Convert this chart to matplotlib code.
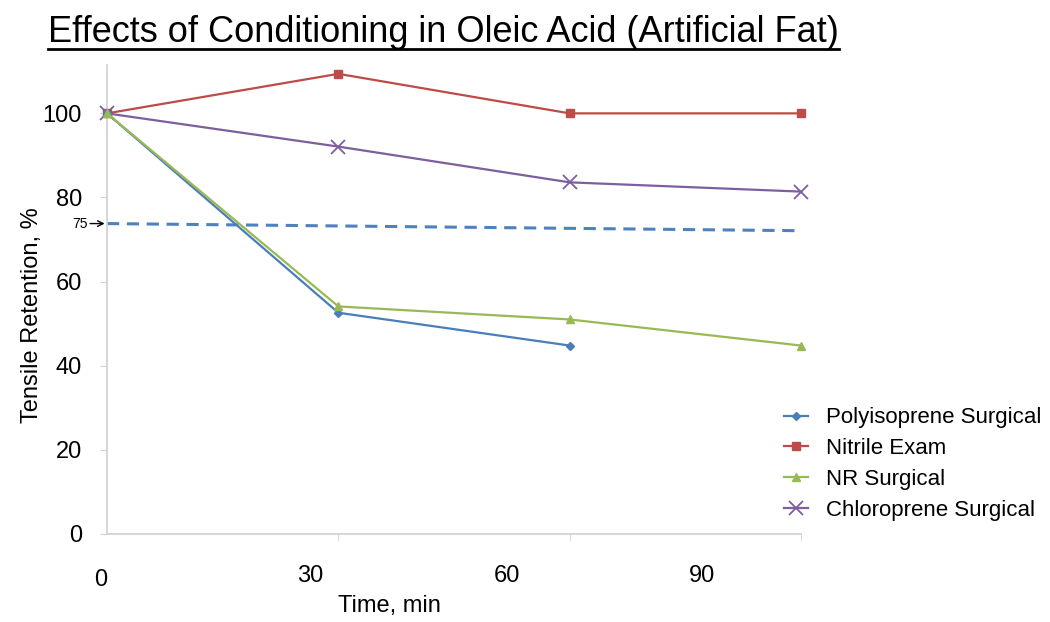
import matplotlib
matplotlib.use("Agg")
import matplotlib.pyplot as plt
import matplotlib.transforms as mtransforms
from matplotlib.lines import Line2D

plt.rcParams['font.family'] = ['Liberation Sans', 'DejaVu Sans']

# data (categorical points along the time axis)
times = ['0', '30', '60', '90']
poly = [100, 52.6, 44.8]
nitrile = [100, 109.4, 100, 100]
nr = [100, 54.1, 51.0, 44.8]
chloro = [100, 92.1, 83.6, 81.4]
threshold = [73.8, 72.1]

fig = plt.figure(figsize=(10.5, 6.22), dpi=100)
ax = fig.add_axes([0.1019, 0.1415, 0.661, 0.754])

ax.plot(range(len(poly)), poly, color='#4a7ebb', marker='D', ms=4.5, lw=1.6,
        label='Polyisoprene Surgical', clip_on=False, zorder=4)
ax.plot(range(len(nitrile)), nitrile, color='#be4b48', marker='s', ms=6, lw=1.6,
        label='Nitrile Exam', clip_on=False, zorder=3)
ax.plot(range(len(nr)), nr, color='#98b954', marker='^', ms=6, lw=1.6,
        label='NR Surgical', clip_on=False, zorder=5)
ax.plot(range(len(chloro)), chloro, color='#7d5fa0', marker='x', ms=10, mew=1.3, lw=1.6,
        label='Chloroprene Surgical', clip_on=False, zorder=3)

ax.plot([0, 3], threshold, color='#4f81bd', ls=(0, (4, 2.5)), lw=2.2, zorder=2)
ax.annotate('75', xy=(-0.01, threshold[0]), xytext=(-0.152, threshold[0]),
            xycoords='data', textcoords='data', va='center', ha='left', fontsize=10,
            arrowprops=dict(arrowstyle='->', color='black', lw=1, shrinkA=0, shrinkB=0),
            annotation_clip=False)

for s in ['top', 'right']:
    ax.spines[s].set_visible(False)
for s in ['left', 'bottom']:
    ax.spines[s].set_color('#d0d0d0')
    ax.spines[s].set_linewidth(1.2)

ax.set_yticks([0, 20, 40, 60, 80, 100])
ax.tick_params(axis='y', length=5, color='#d0d0d0', pad=13, labelsize=17)

# tick marks at the data points, labels offset as in the original
ax.set_xticks([0, 1, 2, 3], minor=True)
ax.tick_params(axis='x', which='minor', length=5, color='#d0d0d0')
ax.set_xticks([0, 0.88, 1.73, 2.57])
ax.set_xticklabels(times)
ax.tick_params(axis='x', which='major', length=0, pad=22, labelsize=17)
lab0 = ax.get_xticklabels()[0]
lab0.set_transform(lab0.get_transform() +
                   mtransforms.ScaledTranslation(-6 / 100, -4 / 100, fig.dpi_scale_trans))

ax.set_xlim(0, 3)
ax.set_ylim(0, 111.5)

ax.set_xlabel('Time, min', fontsize=17)
ax.set_ylabel('Tensile Retention, %', fontsize=17)
ax.xaxis.set_label_coords(0.407, -0.13)
ax.yaxis.set_label_coords(-0.092, 0.467)

leg = ax.legend(loc='upper left', bbox_to_anchor=(0.975, 0.27), frameon=False,
                fontsize=16, handlelength=1.1, handletextpad=0.8, labelspacing=0.44,
                borderaxespad=0, borderpad=0)

title = fig.text(0.422, 0.948, 'Effects of Conditioning in Oleic Acid (Artificial Fat)',
                 ha='center', va='center', fontsize=26)
fig.canvas.draw()
bb = title.get_window_extent().transformed(fig.transFigure.inverted())
fig.add_artist(Line2D([bb.x0, bb.x1], [bb.y0 + 0.002, bb.y0 + 0.002],
                      color='black', lw=2, transform=fig.transFigure))

fig.savefig('out.png', dpi=100)
